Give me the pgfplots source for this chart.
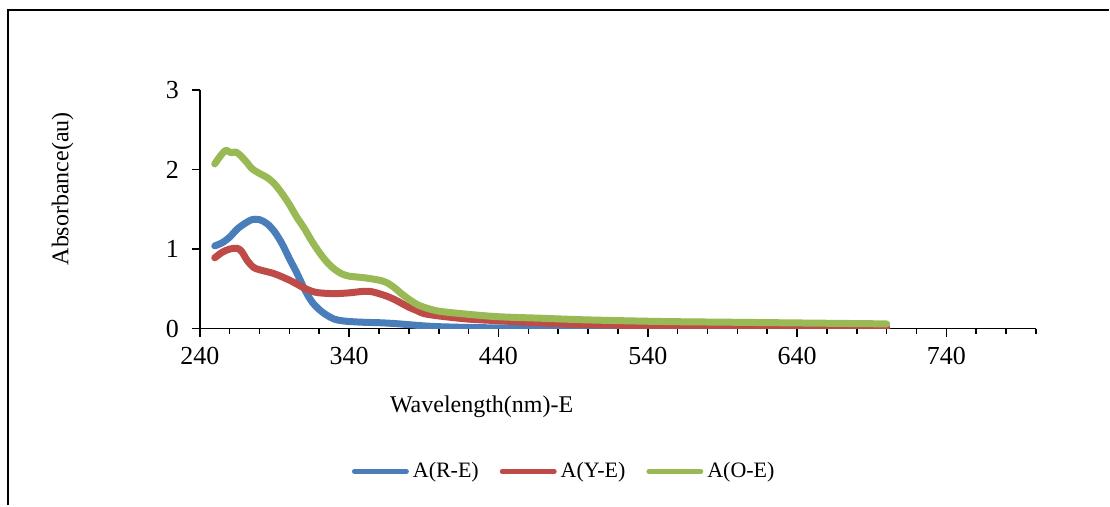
\documentclass[border=0pt]{standalone}
\usepackage{fontspec}
\setmainfont{Liberation Serif}
\usepackage{pgfplots}
\pgfplotsset{compat=1.18}
\definecolor{cblue}{HTML}{4A7EBB}
\definecolor{cred}{HTML}{BE4B48}
\definecolor{cgreen}{HTML}{98B954}
\begin{document}
\begin{tikzpicture}
\path (0,0) rectangle (555pt,253pt);
\draw[line width=1.1pt] (4pt,0) -- (4pt,248pt) -- (555pt,248pt);
\begin{axis}[
  at={(100pt,88.5pt)}, anchor=south west,
  width=418.5pt, height=119.5pt, scale only axis,
  xmin=240, xmax=800, ymin=0, ymax=3,
  axis lines*=left,
  axis line style={line width=0.8pt},
  xtick={240,340,...,740},
  minor xtick={240,260,...,800},
  ytick={0,1,2,3},
  tick align=outside,
  major tick length=4pt, minor tick length=2.5pt,
  every tick/.style={black, line width=0.8pt},
  /pgf/number format/assume math mode=true,
  /pgf/number format/set thousands separator={},
  ticklabel style={font=\fontsize{13}{15}\selectfont},
  xticklabel style={yshift=-2pt},
  yticklabel style={xshift=-3pt},
  xlabel={Wavelength(nm)-E},
  ylabel={Absorbance(au)},
  xlabel style={font=\fontsize{12}{14}\selectfont, at={(axis description cs:0.337,-0.326)}, anchor=center},
  ylabel style={font=\fontsize{12}{14}\selectfont, at={(axis description cs:-0.164,0.586)}, anchor=center, rotate=0},
  legend style={at={(0.437,-0.598)}, anchor=center, draw=none, legend columns=3,
    font=\fontsize{11}{13}\selectfont,
    /tikz/every even column/.append style={column sep=8.5pt}},
  legend image code/.code={\draw[#1, line width=2.5pt, line cap=round] (0pt,0pt) -- (26pt,0pt);},
  every axis plot/.append style={line width=3.5pt, line cap=round, line join=round, smooth},
]
\addplot[cblue] coordinates {
(250,1.04) (255,1.08) (260,1.15) (265,1.25) (270,1.32) (275,1.37) (280,1.37) (285,1.32)
(290,1.22) (295,1.07) (300,0.88) (305,0.70) (310,0.50) (315,0.34) (320,0.24) (325,0.17)
(330,0.12) (335,0.10) (340,0.09) (350,0.08) (360,0.075) (370,0.065) (380,0.05) (390,0.035)
(400,0.025) (420,0.015) (440,0.01) (480,0.005) (550,0.003) (700,0.002)
};
\addlegendentry{A(R-E)}
\addplot[cred] coordinates {
(250,0.89) (255,0.96) (260,1.00) (265,1.01) (268,0.97) (272,0.85) (276,0.77) (280,0.74)
(290,0.69) (300,0.61) (305,0.56) (310,0.51) (315,0.47) (320,0.45) (330,0.44) (340,0.45)
(350,0.47) (355,0.465) (360,0.44) (365,0.41) (370,0.37) (375,0.32) (380,0.27) (385,0.23)
(390,0.19) (400,0.16) (420,0.12) (440,0.10) (470,0.07) (500,0.05) (550,0.035) (600,0.03) (700,0.02)
};
\addlegendentry{A(Y-E)}
\addplot[cgreen] coordinates {
(250,2.07) (253,2.15) (256,2.22) (258,2.24) (261,2.21) (264,2.22) (267,2.18) (271,2.10)
(275,2.01) (280,1.95) (285,1.90) (290,1.82) (295,1.70) (300,1.56) (305,1.40) (310,1.26)
(315,1.10) (320,0.96) (325,0.84) (330,0.75) (335,0.69) (340,0.66) (350,0.64) (360,0.61)
(365,0.58) (370,0.52) (375,0.44) (380,0.37) (385,0.31) (390,0.27) (400,0.22) (420,0.18)
(440,0.15) (470,0.13) (500,0.11) (550,0.09) (600,0.08) (650,0.07) (700,0.06)
};
\addlegendentry{A(O-E)}
\end{axis}
\end{tikzpicture}
\end{document}
